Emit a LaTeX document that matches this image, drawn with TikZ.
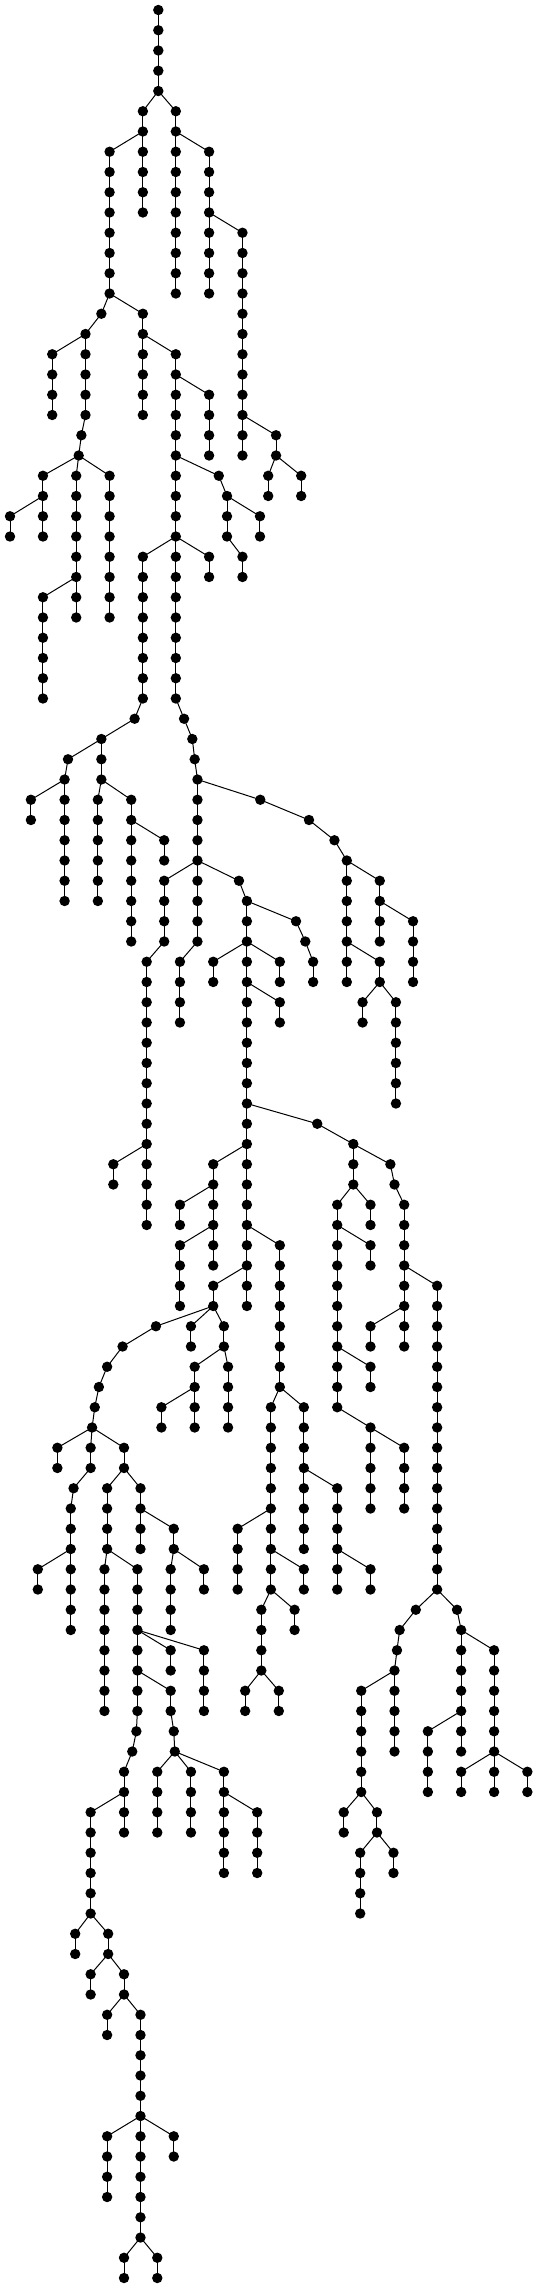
\documentclass[tikz,border=0pt]{standalone}
\usepackage{tikz}

\begin{document}
\begin{tikzpicture}[x=0.5pt,y=-0.5pt,line width=0.5pt]
\useasboundingbox (0,0) rectangle (539,2290);
\pgfmathsetmacro\dy{20.25}
\pgfmathsetmacro\sx{1.03}
\pgfmathsetmacro\r{2.6}
% id/x/first level/last level/parent id
\def\branches{1/154/0/4/0,
2/139/5/6/1, 3/171/5/6/1, 4/106.7/7/14/2, 5/139/7/10/2, 6/171/7/14/3, 7/203.3/7/14/3,
8/235.7/11/22/7, 9/98.7/15/15/4, 10/139/15/20/4, 11/83.3/16/20/9, 12/51/17/20/11,
13/171/17/34/10, 14/203.3/19/22/13, 15/268.3/21/22/8, 16/79.3/21/21/11, 17/76.7/22/22/16,
18/42/23/26/17, 19/74.3/23/30/17, 20/106.7/23/30/17, 21/212.7/23/23/13, 22/260.7/23/24/15,
23/292.7/23/24/15, 24/220.7/24/26/21, 25/10/25/26/18, 26/252.7/25/26/24, 27/139/27/34/13,
29/203.3/27/28/13, 30/235.7/27/28/24, 31/42/29/34/19, 32/131/35/35/27, 33/179/35/35/13,
34/98.7/36/38/32, 35/187/36/36/33, 36/66.3/37/37/34, 37/189.3/37/37/35, 38/63/38/44/36,
39/192/38/46/37, 40/30.3/39/40/38, 41/95.3/39/44/34, 42/127.7/39/46/34, 43/253/39/39/39,
44/300.3/40/40/43, 45/159.7/41/42/42, 46/325/41/41/44, 47/337/42/48/46, 48/159.7/43/46/39,
49/232.3/43/43/39, 50/369/43/46/47, 51/240/44/64/49, 52/287.7/45/45/51, 53/401.3/45/48/50,
54/296.7/46/46/52, 55/142.7/47/60/48, 56/175/47/50/39, 57/207.3/47/48/51, 58/272/47/48/51,
59/304.3/47/48/54, 60/369/47/48/47, 61/272/49/50/51, 62/352.3/49/50/60, 63/384.7/49/54/60,
64/308.3/55/55/51, 65/343.3/56/58/64, 66/110.3/57/58/55, 67/207.3/57/62/51, 68/379.3/57/57/65,
69/383.3/58/58/68, 70/175/59/60/67, 71/327.7/59/69/65, 72/360/59/60/65, 73/392.7/59/66/69,
74/175/61/64/67, 75/272/61/68/51, 76/360/61/62/71, 77/207.3/63/64/51, 78/424.7/63/78/73,
79/151.7/65/65/77, 80/185.7/65/66/77, 81/217.7/65/66/77, 82/360/65/66/73, 83/119.3/66/66/79,
84/104.3/67/67/83, 85/96.3/68/68/84, 86/92.3/69/69/85, 87/89.7/70/70/86, 88/189.3/67/70/81,
89/221.7/67/70/81, 90/360/67/68/71, 91/157/69/70/88, 92/263.3/69/78/75, 93/295.3/69/76/75,
94/360/70/74/71, 95/56/71/72/87, 96/88.3/71/72/87, 97/120.7/71/72/87, 98/392.7/71/74/94,
99/71.7/73/73/96, 100/104.3/73/76/97, 101/136.7/73/76/97, 102/327.7/73/78/93, 103/69/74/80/99,
104/169/75/76/101, 105/231/75/78/92, 106/37/77/78/103, 107/101.7/77/84/100, 108/133.7/77/84/100,
109/166/77/80/104, 110/198.3/77/78/104, 111/295.3/77/78/92, 112/360/77/78/102, 113/254/79/82/92,
114/286.3/79/80/92, 115/404/79/79/78, 116/444/79/79/78, 117/388.3/80/80/115, 118/448/80/86/116,
119/166/81/82/108, 120/198.3/81/84/108, 121/385.7/81/81/117, 122/480/81/88/118, 123/383.3/82/86/121,
124/166/83/84/108, 125/238.3/83/84/113, 126/271/83/84/113, 127/351/83/88/123, 128/132.7/85/85/108,
129/169/85/85/124, 130/415.7/85/88/118, 131/128.7/86/86/128, 132/170/86/86/129, 133/120.7/87/90/131,
134/153/87/90/132, 135/185.7/87/90/132, 136/217.7/87/92/132, 137/448/87/88/122, 138/512.3/87/88/122,
139/88.3/89/94/133, 140/250/89/92/136, 141/334/89/90/127, 142/366.3/89/90/127, 143/350/91/94/142,
144/382.3/91/92/142, 145/73.3/95/96/139, 146/105.3/95/96/139, 147/88.3/97/98/146, 148/120.7/97/98/146,
149/104.3/99/100/148, 150/136.7/99/110/148, 151/104.3/105/108/150, 152/169/105/106/150,
153/120.7/111/112/150, 154/153/111/112/150}
\foreach \k/\xx/\la/\lb/\pa in \branches
  \foreach \l in {\la,...,\lb}
    \coordinate (b\k-\l) at ({10+\sx*(\xx-10)},{10+\dy*\l});
\foreach \k/\xx/\la/\lb/\pa in \branches {
  \pgfmathtruncatemacro\up{\la-1}
  \ifnum\pa>0 \draw (b\pa-\up) -- (b\k-\la); \fi
  \foreach \l in {\la,...,\lb} {
    \pgfmathtruncatemacro\m{\l-1}
    \ifnum\l>\la \draw (b\k-\m) -- (b\k-\l); \fi
  }
}
\foreach \k/\xx/\la/\lb/\pa in \branches
  \foreach \l in {\la,...,\lb}
    \fill (b\k-\l) circle (\r pt);
\end{tikzpicture}
\end{document}
